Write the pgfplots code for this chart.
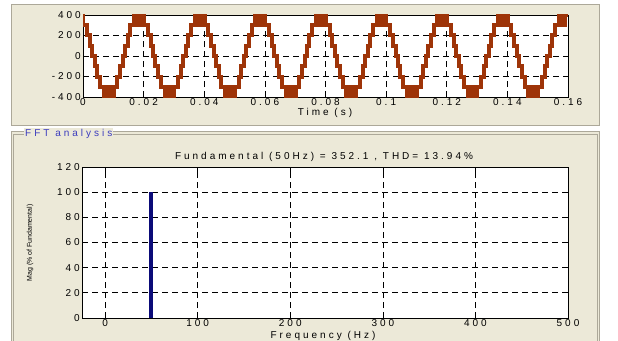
\documentclass[border=0pt]{standalone}
\usepackage{pgfplots}
\pgfplotsset{compat=1.18}
\usepackage{fontspec}
\setmainfont{Liberation Sans}
\newfontfamily\mfont[LetterSpace=30]{Liberation Sans}
\newcommand{\mf}{\mfont\fontsize{10bp}{11bp}\selectfont}
\definecolor{beige}{RGB}{236,233,216}
\definecolor{rust}{RGB}{158,52,8}
\definecolor{navyb}{RGB}{10,10,120}
\definecolor{fftblue}{RGB}{60,60,190}
\definecolor{framec}{RGB}{172,168,153}
\pgfplotsset{
  mlab/.style={
    scale only axis,
    axis background/.style={fill=white},
    grid=major,
    major grid style={black, dash pattern=on 6bp off 4bp, line width=0.7bp},
    axis line style={black, line width=0.9bp},
    tick style={black, line width=0.7bp},
    major tick length=5bp,
    tick align=inside,
    ticklabel style={font=\mf},
    xticklabel style={inner sep=1.2bp},
    yticklabel style={inner sep=2bp},
    scaled x ticks=false, scaled y ticks=false,
  }
}
\begin{document}
\begin{tikzpicture}
\useasboundingbox (0,0) rectangle (618bp,-341bp);
\fill[white] (0,0) rectangle (618bp,-341bp);
\filldraw[fill=beige, draw=framec, line width=1bp] (11.5bp,-4.5bp) rectangle (599.5bp,-125.5bp);
\filldraw[fill=beige, draw=framec, line width=1bp] (11.5bp,-131bp) rectangle (599.5bp,-345bp);
\draw[framec, line width=0.8bp] (13.5bp,-345bp) -- (13.5bp,-134.5bp) -- (597bp,-134.5bp) -- (597bp,-345bp);
\node[anchor=west, fill=beige, inner sep=1bp, text=fftblue, font=\mf] at (24bp,-134bp) {FFT analysis};

\begin{axis}[mlab, at={(83bp,-97bp)}, anchor=south west,
  width=485bp, height=82bp,
  xmin=0, xmax=0.16, ymin=-400, ymax=400,
  xtick={0,0.02,0.04,0.06,0.08,0.1,0.12,0.14,0.16},
  xticklabels={0,0.02,0.04,0.06,0.08,0.1,0.12,0.14,0.16},
  ytick={-400,-200,0,200,400},
  yticklabels={-400,-200,0,200,400}]
\addplot[const plot, rust, line width=4bp, line join=miter] table {
t v
0 400
0.00011 300
0.00135 200
0.00228 100
0.00310 0
0.00390 -100
0.00472 -200
0.00565 -300
0.00689 -400
0.00796 -300
0.00904 -400
0.01011 -300
0.01135 -200
0.01228 -100
0.01310 0
0.01390 100
0.01472 200
0.01565 300
0.01689 400
0.01796 300
0.01904 400
0.02011 300
0.02135 200
0.02228 100
0.02310 0
0.02390 -100
0.02472 -200
0.02565 -300
0.02689 -400
0.02796 -300
0.02904 -400
0.03011 -300
0.03135 -200
0.03228 -100
0.03310 0
0.03390 100
0.03472 200
0.03565 300
0.03689 400
0.03796 300
0.03904 400
0.04011 300
0.04135 200
0.04228 100
0.04310 0
0.04390 -100
0.04472 -200
0.04565 -300
0.04689 -400
0.04796 -300
0.04904 -400
0.05011 -300
0.05135 -200
0.05228 -100
0.05310 0
0.05390 100
0.05472 200
0.05565 300
0.05689 400
0.05796 300
0.05904 400
0.06011 300
0.06135 200
0.06228 100
0.06310 0
0.06390 -100
0.06472 -200
0.06565 -300
0.06689 -400
0.06796 -300
0.06904 -400
0.07011 -300
0.07135 -200
0.07228 -100
0.07310 0
0.07390 100
0.07472 200
0.07565 300
0.07689 400
0.07796 300
0.07904 400
0.08011 300
0.08135 200
0.08228 100
0.08310 0
0.08390 -100
0.08472 -200
0.08565 -300
0.08689 -400
0.08796 -300
0.08904 -400
0.09011 -300
0.09135 -200
0.09228 -100
0.09310 0
0.09390 100
0.09472 200
0.09565 300
0.09689 400
0.09796 300
0.09904 400
0.10011 300
0.10135 200
0.10228 100
0.10310 0
0.10390 -100
0.10472 -200
0.10565 -300
0.10689 -400
0.10796 -300
0.10904 -400
0.11011 -300
0.11135 -200
0.11228 -100
0.11310 0
0.11390 100
0.11472 200
0.11565 300
0.11689 400
0.11796 300
0.11904 400
0.12011 300
0.12135 200
0.12228 100
0.12310 0
0.12390 -100
0.12472 -200
0.12565 -300
0.12689 -400
0.12796 -300
0.12904 -400
0.13011 -300
0.13135 -200
0.13228 -100
0.13310 0
0.13390 100
0.13472 200
0.13565 300
0.13689 400
0.13796 300
0.13904 400
0.14011 300
0.14135 200
0.14228 100
0.14310 0
0.14390 -100
0.14472 -200
0.14565 -300
0.14689 -400
0.14796 -300
0.14904 -400
0.15011 -300
0.15135 -200
0.15228 -100
0.15310 0
0.15390 100
0.15472 200
0.15565 300
0.15689 400
0.15796 300
0.15904 400
0.16 400
};
\end{axis}
\node[font=\mf] at (325bp,-113bp) {Time (s)};

\begin{axis}[mlab, at={(82bp,-318bp)}, anchor=south west,
  width=486bp, height=151bp,
  xmin=-25, xmax=500, ymin=0, ymax=120,
  xtick={0,100,200,300,400,500},
  xticklabels={0,100,200,300,400,500},
  ytick={0,20,40,60,80,100,120},
  yticklabels={0,20,40,60,80,100,120}]
\addplot[ybar, bar width=4bp, fill=navyb, draw=none] coordinates {(50,100)};
\end{axis}
\node[font=\mf] at (324bp,-157bp) {Fundamental (50Hz) = 352.1 , THD= 13.94\%};
\node[font=\mf] at (323bp,-335.5bp) {Frequency (Hz)};
\node[rotate=90, font=\fontsize{7bp}{8bp}\selectfont] at (30bp,-243bp) {Mag (\% of Fundamental)};
\end{tikzpicture}
\end{document}
